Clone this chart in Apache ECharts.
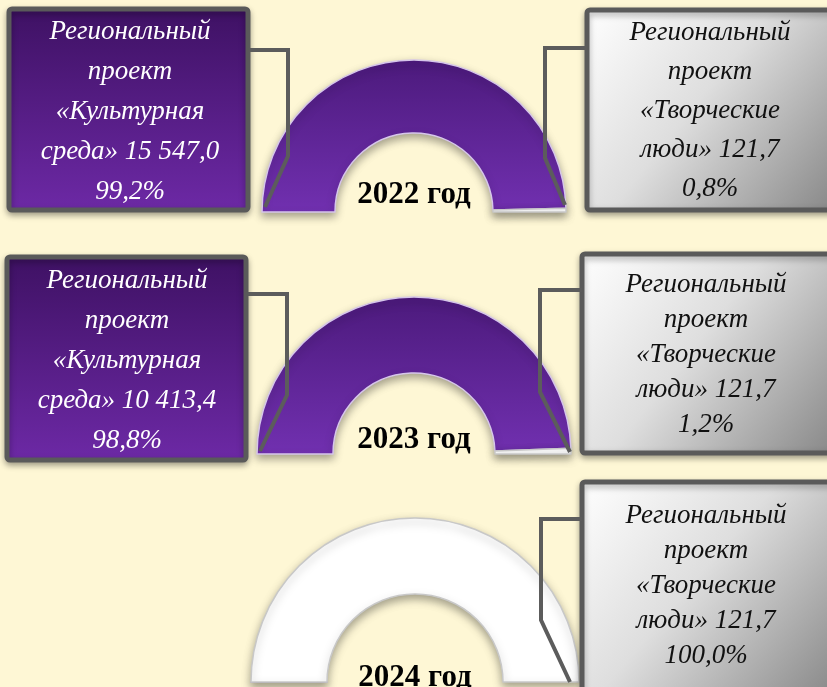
<!DOCTYPE html>
<html>
<head>
<meta charset="utf-8">
<script src="https://cdn.jsdelivr.net/npm/echarts@6/dist/echarts.min.js"></script>
<style>
  html, body { margin: 0; padding: 0; background: #FEF7D5; }
  #chart { width: 827px; height: 687px; }
</style>
</head>
<body>
<div id="chart"></div>
<script>
// Funding of two regional projects by year (thousand roubles)
const years = ['2022 год', '2023 год', '2024 год'];
const projectNames = ['Культурная среда', 'Творческие люди'];
const cultureValues = [15547.0, 10413.4, 0];
const creativeValues = [121.7, 121.7, 121.7];

// Layout of the three half-rings and their callout boxes
const rings = [
  { center: [414, 212], radius: [79, 152], yearY: 195 },
  { center: [414, 454], radius: [81, 157], yearY: 440 },
  { center: [415, 682], radius: [88, 164], yearY: 678 }
];
const leftBoxes = [
  { x: 9, y: 9, w: 239, h: 201, lh: 40, cx: 130, cy: 112,
    line: [[250, 50], [288, 50], [288, 156], [265, 207]] },
  { x: 7, y: 257, w: 239, h: 203, lh: 40, cx: 127, cy: 361,
    line: [[248, 294], [287, 294], [287, 395], [260, 451]] },
  null
];
const rightBoxes = [
  { x: 587, y: 10, w: 250, h: 200, lh: 39, cx: 710, cy: 111,
    line: [[587, 48], [545, 48], [545, 158], [565, 205]] },
  { x: 582, y: 254, w: 255, h: 199, lh: 35, cx: 706, cy: 355,
    line: [[582, 290], [540, 290], [540, 392], [570, 452]] },
  { x: 582, y: 482, w: 255, h: 215, lh: 35, cx: 706, cy: 586,
    line: [[582, 519], [541, 519], [541, 620], [570, 682]] }
];

function fmtValue(v) {
  const parts = v.toFixed(1).split('.');
  const intPart = parts[0].replace(/\B(?=(\d{3})+(?!\d))/g, ' ');
  return intPart + ',' + parts[1];
}
function fmtPct(v, total) {
  return (v / total * 100).toFixed(1).replace('.', ',') + '%';
}
function boxText(name, value, total) {
  const words = name.split(' ');
  return 'Региональный\nпроект\n«' + words[0] + '\n' + words[1] + '» ' +
    fmtValue(value) + '\n' + fmtPct(value, total);
}

const purpleRing = {
  type: 'linear', x: 0, y: 0, x2: 0, y2: 1,
  colorStops: [{ offset: 0, color: '#4c1a7c' }, { offset: 1, color: '#7130b0' }]
};

const series = [];
const graphics = [];
const font = 'italic 27px "Liberation Serif", "DejaVu Serif", serif';

years.forEach((year, i) => {
  const total = cultureValues[i] + creativeValues[i];
  const r = rings[i];
  series.push({
    type: 'pie',
    center: r.center,
    radius: r.radius,
    startAngle: 180,
    endAngle: 0,
    clockwise: true,
    silent: true,
    label: { show: false },
    labelLine: { show: false },
    itemStyle: {
      borderColor: '#d6c6ea',
      borderWidth: 1.5,
      shadowBlur: 8,
      shadowOffsetY: 4,
      shadowColor: 'rgba(0,0,0,0.35)'
    },
    data: [
      { name: projectNames[0], value: cultureValues[i], itemStyle: { color: purpleRing } },
      { name: projectNames[1], value: creativeValues[i],
        itemStyle: { color: '#ffffff', borderColor: '#c8c8c8' } }
    ]
  });

  graphics.push({
    type: 'text', z: 20,
    style: {
      text: year, x: r.center[0], y: r.yearY,
      align: 'center', verticalAlign: 'middle',
      textAlign: 'center', textVerticalAlign: 'middle',
      font: 'bold 31px "Liberation Serif", "Times New Roman", serif',
      fill: '#000000'
    }
  });

  const lb = leftBoxes[i];
  if (lb && cultureValues[i] > 0) {
    graphics.push({
      type: 'rect', z: 10,
      shape: { x: lb.x, y: lb.y, width: lb.w, height: lb.h, r: 3 },
      style: {
        fill: new echarts.graphic.LinearGradient(0, 0, 0, 1, [
          { offset: 0, color: '#3e1163' }, { offset: 1, color: '#6d29a6' }
        ]),
        stroke: '#5a5a5a', lineWidth: 5,
        shadowBlur: 6, shadowOffsetY: 3, shadowColor: 'rgba(0,0,0,0.3)'
      }
    });
    graphics.push({
      type: 'text', z: 11,
      style: {
        text: boxText(projectNames[0], cultureValues[i], total),
        x: lb.cx, y: lb.cy,
        align: 'center', verticalAlign: 'middle',
        textAlign: 'center', textVerticalAlign: 'middle',
        font: font, lineHeight: lb.lh, fill: '#ffffff'
      }
    });
    graphics.push({
      type: 'polyline', z: 12,
      shape: { points: lb.line },
      style: { stroke: '#5c5c5c', lineWidth: 4, fill: null, lineJoin: 'miter' }
    });
  }

  const rb = rightBoxes[i];
  graphics.push({
    type: 'rect', z: 10,
    shape: { x: rb.x, y: rb.y, width: rb.w, height: rb.h, r: 3 },
    style: {
      fill: new echarts.graphic.LinearGradient(0, 0, 1, 1, [
        { offset: 0, color: '#ffffff' },
        { offset: 0.45, color: '#dedede' },
        { offset: 1, color: '#858585' }
      ]),
      stroke: '#5a5a5a', lineWidth: 5,
      shadowBlur: 6, shadowOffsetY: 3, shadowColor: 'rgba(0,0,0,0.3)'
    }
  });
  graphics.push({
    type: 'text', z: 11,
    style: {
      text: boxText(projectNames[1], creativeValues[i], total),
      x: rb.cx, y: rb.cy,
      align: 'center', verticalAlign: 'middle',
      textAlign: 'center', textVerticalAlign: 'middle',
      font: font, lineHeight: rb.lh, fill: '#111111'
    }
  });
  graphics.push({
    type: 'polyline', z: 12,
    shape: { points: rb.line },
    style: { stroke: '#5c5c5c', lineWidth: 4, fill: null, lineJoin: 'miter' }
  });
});

const chart = echarts.init(document.getElementById('chart'), null, { renderer: 'canvas' });
chart.setOption({
  backgroundColor: '#FEF7D5',
  animation: false,
  series: series,
  graphic: { elements: graphics }
});
</script>
</body>
</html>
